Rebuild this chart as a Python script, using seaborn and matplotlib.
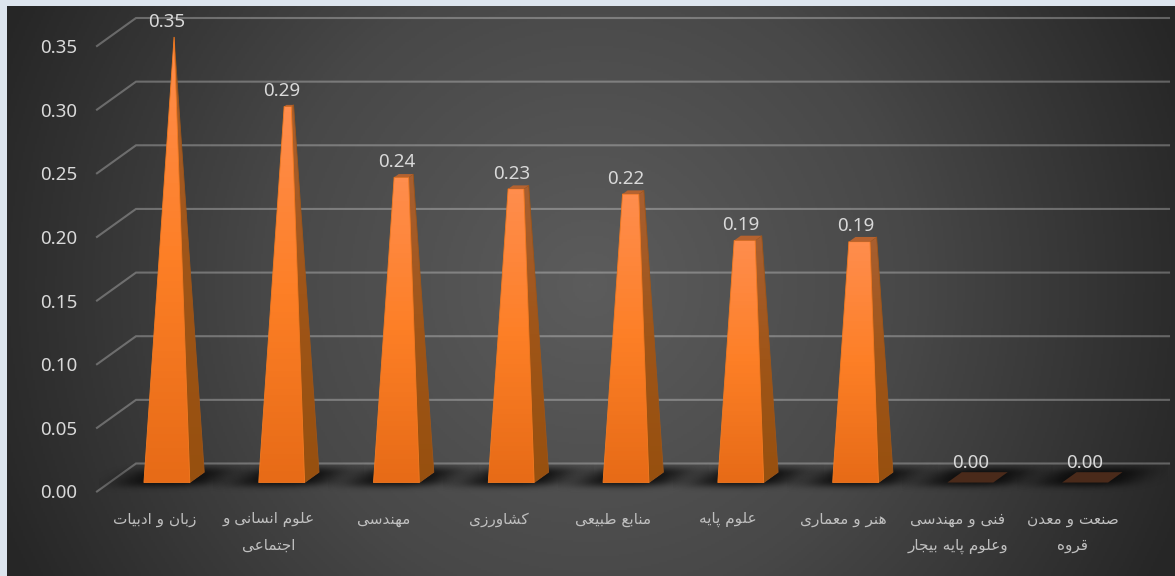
import numpy as np
import pandas as pd
import seaborn as sns
import matplotlib
matplotlib.use('Agg')
import matplotlib.pyplot as plt
from matplotlib.colors import LinearSegmentedColormap
from matplotlib.patches import Polygon

categories = ['زبان و ادبیات', 'علوم انسانی و\nاجتماعی', 'مهندسی', 'کشاورزی', 'منابع طبیعی',
              'علوم پایه', 'هنر و معماری', 'فنی و مهندسی\nوعلوم پایه بیجار', 'صنعت و معدن\nقروه']
values = [0.346, 0.292, 0.237, 0.228, 0.224, 0.188, 0.187, 0.0, 0.0]
y_ticks = [0.00, 0.05, 0.10, 0.15, 0.20, 0.25, 0.30, 0.35]

W, H = 1175, 576
TEXT = '#d9d9d9'


# matplotlib does no arabic shaping, so pick the joined letter forms here
# letter -> first code point of its forms (isolated, final, initial, medial)
FORMS = {'ا': 0xFE8D, 'ب': 0xFE8F, 'پ': 0xFB56, 'ت': 0xFE95, 'ج': 0xFE9D, 'د': 0xFEA9, 'ر': 0xFEAD,
         'ز': 0xFEAF, 'س': 0xFEB1, 'ص': 0xFEB9, 'ط': 0xFEC1, 'ع': 0xFEC9, 'ف': 0xFED1, 'ق': 0xFED5,
         'ک': 0xFB8E, 'ل': 0xFEDD, 'م': 0xFEE1, 'ن': 0xFEE5, 'ه': 0xFEE9, 'و': 0xFEED, 'ی': 0xFBFC,
         'ش': 0xFEB5}
NO_LEFT_JOIN = 'ادرزو'


def shape_line(line):
    out = []
    for i, ch in enumerate(line):
        if ch not in FORMS:
            out.append(ch)
            continue
        prev = line[i - 1] if i > 0 else ' '
        nxt = line[i + 1] if i < len(line) - 1 else ' '
        join_prev = prev in FORMS and prev not in NO_LEFT_JOIN
        join_next = nxt in FORMS and ch not in NO_LEFT_JOIN
        form = {(False, False): 0, (True, False): 1, (False, True): 2, (True, True): 3}[(join_prev, join_next)]
        out.append(chr(FORMS[ch] + form))
    return ''.join(out[::-1])


def shape(label):
    return '\n'.join(shape_line(p) for p in label.split('\n'))


fig = plt.figure(figsize=(W / 100, H / 100), dpi=100, facecolor='#dde5ee')

# panel background
bg = fig.add_axes([7 / W, 0, (W - 7) / W, (H - 6) / H])
yy, xx = np.mgrid[6:576:285j, 7:1175:584j]
r = np.sqrt((xx - 590) ** 2 + (yy - 285) ** 2) / 640
bg.imshow(np.clip(r, 0, 1), cmap=LinearSegmentedColormap.from_list('bg', ['#5c5c5c', '#484848', '#262626']),
          vmin=0, vmax=1, aspect='auto')
bg.axis('off')

# front plane of the chart
ax = fig.add_axes([97 / W, (H - 491.5) / H, 1033 / W, 445.5 / H], facecolor='none')
df = pd.DataFrame({'major': categories, 'value': values})
sns.barplot(data=df, x='major', y='value', color='#f47a20', width=0.4, ax=ax)
sns.despine(ax=ax, left=True, bottom=True)

DX = 39 / (1033 / 9)
DY = 28 / (445.5 / 0.35)


def proj(x, v, d):
    return x + d * DX, v + d * DY


for v in y_ticks:
    x0, v0 = proj(-0.5, v, 0)
    x1, v1 = proj(-0.5, v, 1)
    x2, v2 = proj(8.5, v, 1)
    ax.plot([x0, x1, x2], [v0, v1, v2], color='white', alpha=0.28, lw=1.5, clip_on=False, zorder=1,
            solid_joinstyle='miter')

face_front = LinearSegmentedColormap.from_list('front', ['#e76b17', '#fd7f26', '#ff8d4d'])
face_side = LinearSegmentedColormap.from_list('side', ['#97500f', '#9f5518', '#a85f30'])
shadow = LinearSegmentedColormap.from_list('shadow', [(0, 0, 0, 0), (0.04, 0.04, 0.04, 0.95)])


def gradient_face(pts, cmap, edge):
    arr = np.array(pts)
    grad = np.linspace(1, 0, 64).reshape(-1, 1)
    im = ax.imshow(grad, cmap=cmap, vmin=0, vmax=1, aspect='auto', zorder=4,
                   extent=[arr[:, 0].min(), arr[:, 0].max(), arr[:, 1].min(), arr[:, 1].max()])
    im.set_clip_path(Polygon(arr, closed=True, transform=ax.transData))
    im.set_clip_box(fig.bbox)
    ax.add_patch(Polygon(arr, closed=True, fill=False, edgecolor=edge, lw=0.6, zorder=4, clip_on=False))


D0, D1 = 0.32, 0.69
top_v = max(values)
sx = np.linspace(-1.3, 1.3, 160)
sy = np.linspace(1.6, -1.6, 60)
SX, SY = np.meshgrid(sx, sy)
blur = np.exp(-np.abs((SX - 0.27 * SY) / 0.82) ** 3) * np.exp(-np.abs(SY / 0.85) ** 3)

for i, bar in enumerate(list(ax.patches)):
    bar.set_visible(False)
    left = bar.get_x()
    right = left + bar.get_width()
    v = bar.get_height()
    t = v / top_v

    fl = np.array(proj(left, 0, D0))
    fr = np.array(proj(right, 0, D0))
    br = np.array(proj(right, 0, D1))
    bl = np.array(proj(left, 0, D1))
    apex = np.array(proj((left + right) / 2, top_v, (D0 + D1) / 2))
    ftl, ftr, btr, btl = [c + t * (apex - c) for c in (fl, fr, br, bl)]

    # blurred floor shadow
    cx, cv = proj((left + right) / 2, 0, (D0 + D1) / 2)
    half_x = 58 / (1033 / 9)
    half_v = 11 / (445.5 / 0.35)
    sh = ax.imshow(blur, cmap=shadow, vmin=0, vmax=1, aspect='auto', zorder=2,
                   extent=[cx - 1.3 * half_x, cx + 1.3 * half_x, cv - 1.6 * half_v, cv + 1.6 * half_v])
    sh.set_clip_on(False)

    if v > 0:
        gradient_face([ftl, ftr, btr, br, fr], face_side, '#9f5518')
        gradient_face([fl, fr, ftr, ftl], face_front, '#f47a20')
        ax.add_patch(Polygon([ftl, ftr, btr, btl], closed=True, fc='#b5622f', ec='none', zorder=5, clip_on=False))
    else:
        ax.add_patch(Polygon([fl, fr, br, bl], closed=True, fc='#4a2a1a', ec='none', zorder=5))

    ax.annotate(f'{v:.2f}', xy=((fl[0] + fr[0]) / 2, ftl[1]),
                xycoords='data', xytext=(0, 11 if v > 0 else 14), textcoords='offset points',
                ha='center', va='center', color=TEXT, fontsize=13.5, family='Noto Sans', zorder=6,
                annotation_clip=False)

ax.set_xlim(-0.5, 8.5)
ax.set_ylim(0, 0.35)
ax.set_xlabel('')
ax.set_ylabel('')
ax.set_yticks(y_ticks)
ax.set_yticklabels([f'{v:.2f}' for v in y_ticks], color=TEXT, fontsize=13.5, family='Noto Sans')
ax.set_xticks(range(len(categories)))
ax.set_xticklabels([shape(c) for c in categories], color='#bfbfbf', fontsize=11, family='DejaVu Sans',
                   linespacing=1.95)
ax.tick_params(axis='y', length=0, pad=14)
ax.tick_params(axis='x', length=0, pad=14.5)

fig.savefig('out.png', dpi=100, facecolor=fig.get_facecolor())
